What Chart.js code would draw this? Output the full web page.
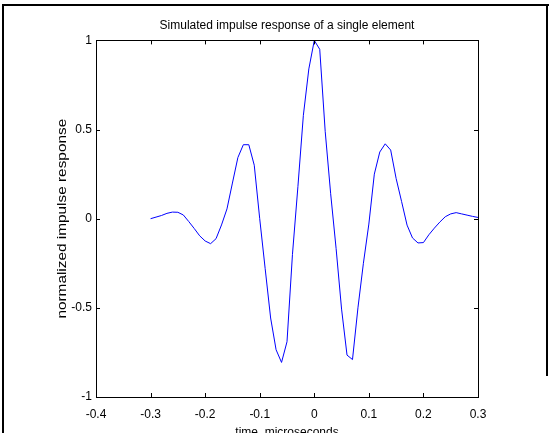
<!DOCTYPE html>
<html>
<head>
<meta charset="utf-8">
<script src="https://cdn.jsdelivr.net/npm/chart.js@4.4.1/dist/chart.umd.min.js"></script>
<style>
  html, body { margin: 0; padding: 0; background: #ffffff; overflow: hidden; }
  #wrap { width: 553px; height: 433px; overflow: hidden; position: relative; }
  canvas { display: block; }
</style>
</head>
<body>
<div id="wrap"><canvas id="c" width="553" height="450"></canvas></div>
<script>
// ---- data ----
const chartTitle = 'Simulated impulse response of a single element';
const xAxisLabel = 'time, microseconds';
const yAxisLabel = 'normalized impulse response';

const times = [
  -0.30, -0.29, -0.28, -0.27, -0.26, -0.25, -0.24, -0.23, -0.22, -0.21,
  -0.20, -0.19, -0.18, -0.17, -0.16, -0.15, -0.14, -0.13, -0.12, -0.11,
  -0.10, -0.09, -0.08, -0.07, -0.06, -0.05, -0.04, -0.03, -0.02, -0.01,
   0.00,  0.01,  0.02,  0.03,  0.04,  0.05,  0.06,  0.07,  0.08,  0.09,
   0.10,  0.11,  0.12,  0.13,  0.14,  0.15,  0.16,  0.17,  0.18,  0.19,
   0.20,  0.21,  0.22,  0.23,  0.24,  0.25,  0.26,  0.27,  0.28,  0.29,
   0.30
];
const response = [
   0.000,  0.009,  0.018,  0.030,  0.037,  0.036,  0.021, -0.016, -0.055, -0.096,
  -0.125, -0.140, -0.112, -0.035,  0.055,  0.200,  0.343,  0.415,  0.415,  0.300,
   0.000, -0.280, -0.557, -0.735, -0.806, -0.690, -0.200,  0.180,  0.580,  0.840,
   1.000,  0.950,  0.490,  0.140, -0.168, -0.507, -0.765, -0.790, -0.500, -0.250,
  -0.030,  0.250,  0.374,  0.420,  0.385,  0.225,  0.096, -0.036, -0.108, -0.136,
  -0.134, -0.090, -0.053, -0.019,  0.011,  0.027,  0.034,  0.027,  0.020,  0.013,
   0.007
];

const xTickValues = [-0.4, -0.3, -0.2, -0.1, 0, 0.1, 0.2, 0.3];
const xTickLabels = ['-0.4', '-0.3', '-0.2', '-0.1', '0', '0.1', '0.2', '0.3'];
const yTickValues = [-1, -0.5, 0, 0.5, 1];
const yTickLabels = ['-1', '-0.5', '0', '0.5', '1'];

// ---- styling ----
const FONT = 'Liberation Sans, Arial, Helvetica, sans-serif';

const points = times.map((t, i) => ({ x: t, y: response[i] }));

const framePlugin = {
  id: 'frame',
  afterDraw(chart) {
    const ctx = chart.ctx;
    const a = chart.chartArea;
    const xs = chart.scales.x, ys = chart.scales.y;
    ctx.save();
    // axes box
    ctx.strokeStyle = '#000';
    ctx.lineWidth = 1;
    ctx.strokeRect(Math.round(a.left) + 0.5, Math.round(a.top) + 0.5,
                   Math.round(a.right - a.left), Math.round(a.bottom - a.top));
    // inward tick marks
    const tl = 4;
    ctx.beginPath();
    xs.ticks.forEach(t => {
      const px = Math.round(xs.getPixelForValue(t.value)) + 0.5;
      ctx.moveTo(px, a.bottom); ctx.lineTo(px, a.bottom - tl);
      ctx.moveTo(px, a.top); ctx.lineTo(px, a.top + tl);
    });
    ys.ticks.forEach(t => {
      const py = Math.round(ys.getPixelForValue(t.value)) + 0.5;
      ctx.moveTo(a.left, py); ctx.lineTo(a.left + tl, py);
      ctx.moveTo(a.right, py); ctx.lineTo(a.right - tl, py);
    });
    ctx.stroke();
    // y axis label (stretched along its length like the reference)
    ctx.save();
    ctx.translate(63, (a.top + a.bottom) / 2);
    ctx.rotate(-Math.PI / 2);
    ctx.scale(1.28, 1);
    ctx.fillStyle = '#000';
    ctx.font = '12px ' + FONT;
    ctx.textAlign = 'center';
    ctx.textBaseline = 'middle';
    ctx.fillText(yAxisLabel, 0, 0);
    ctx.restore();
    // page frame lines
    ctx.fillStyle = '#000';
    ctx.fillRect(2, 4, 547, 2);
    ctx.fillRect(2, 4, 2, 446);
    ctx.fillRect(546, 4, 2, 372);
    ctx.restore();
  }
};

new Chart(document.getElementById('c'), {
  type: 'line',
  data: {
    datasets: [{
      data: points,
      borderColor: '#0000ff',
      borderWidth: 1,
      pointRadius: 0,
      fill: false,
      tension: 0
    }]
  },
  options: {
    responsive: false,
    animation: false,
    events: [],
    layout: { padding: { left: 21, right: 0, top: 0, bottom: 0 } },
    plugins: {
      legend: { display: false },
      tooltip: { enabled: false },
      title: {
        display: true,
        text: chartTitle,
        color: '#000',
        font: { family: FONT, size: 12, weight: 'normal' },
        padding: { top: 18, bottom: 8 }
      }
    },
    scales: {
      x: {
        type: 'linear',
        min: -0.4,
        max: 0.3,
        afterBuildTicks: s => { s.ticks = xTickValues.map(v => ({ value: v })); },
        afterFit: s => { s.height = 53; },
        grid: { display: false, drawTicks: false },
        border: { display: false },
        ticks: {
          autoSkip: false,
          maxRotation: 0,
          padding: 10,
          color: '#000',
          font: { family: FONT, size: 12 },
          callback: (v, i) => xTickLabels[i]
        },
        title: {
          display: true,
          text: xAxisLabel,
          color: '#000',
          font: { family: FONT, size: 12 },
          padding: { top: 0, bottom: 10 }
        }
      },
      y: {
        type: 'linear',
        position: 'left',
        min: -1,
        max: 1,
        afterBuildTicks: s => { s.ticks = yTickValues.map(v => ({ value: v })); },
        afterFit: s => { s.width = 75; },
        grid: { display: false, drawTicks: false },
        border: { display: false },
        ticks: {
          autoSkip: false,
          padding: 4,
          color: '#000',
          font: { family: FONT, size: 12 },
          callback: (v, i) => yTickLabels[i]
        }
      },
      yRight: {
        type: 'linear',
        position: 'right',
        min: -1,
        max: 1,
        afterFit: s => { s.width = 75; },
        grid: { display: false, drawTicks: false },
        border: { display: false },
        ticks: { display: false }
      }
    }
  },
  plugins: [framePlugin]
});
</script>
</body>
</html>
